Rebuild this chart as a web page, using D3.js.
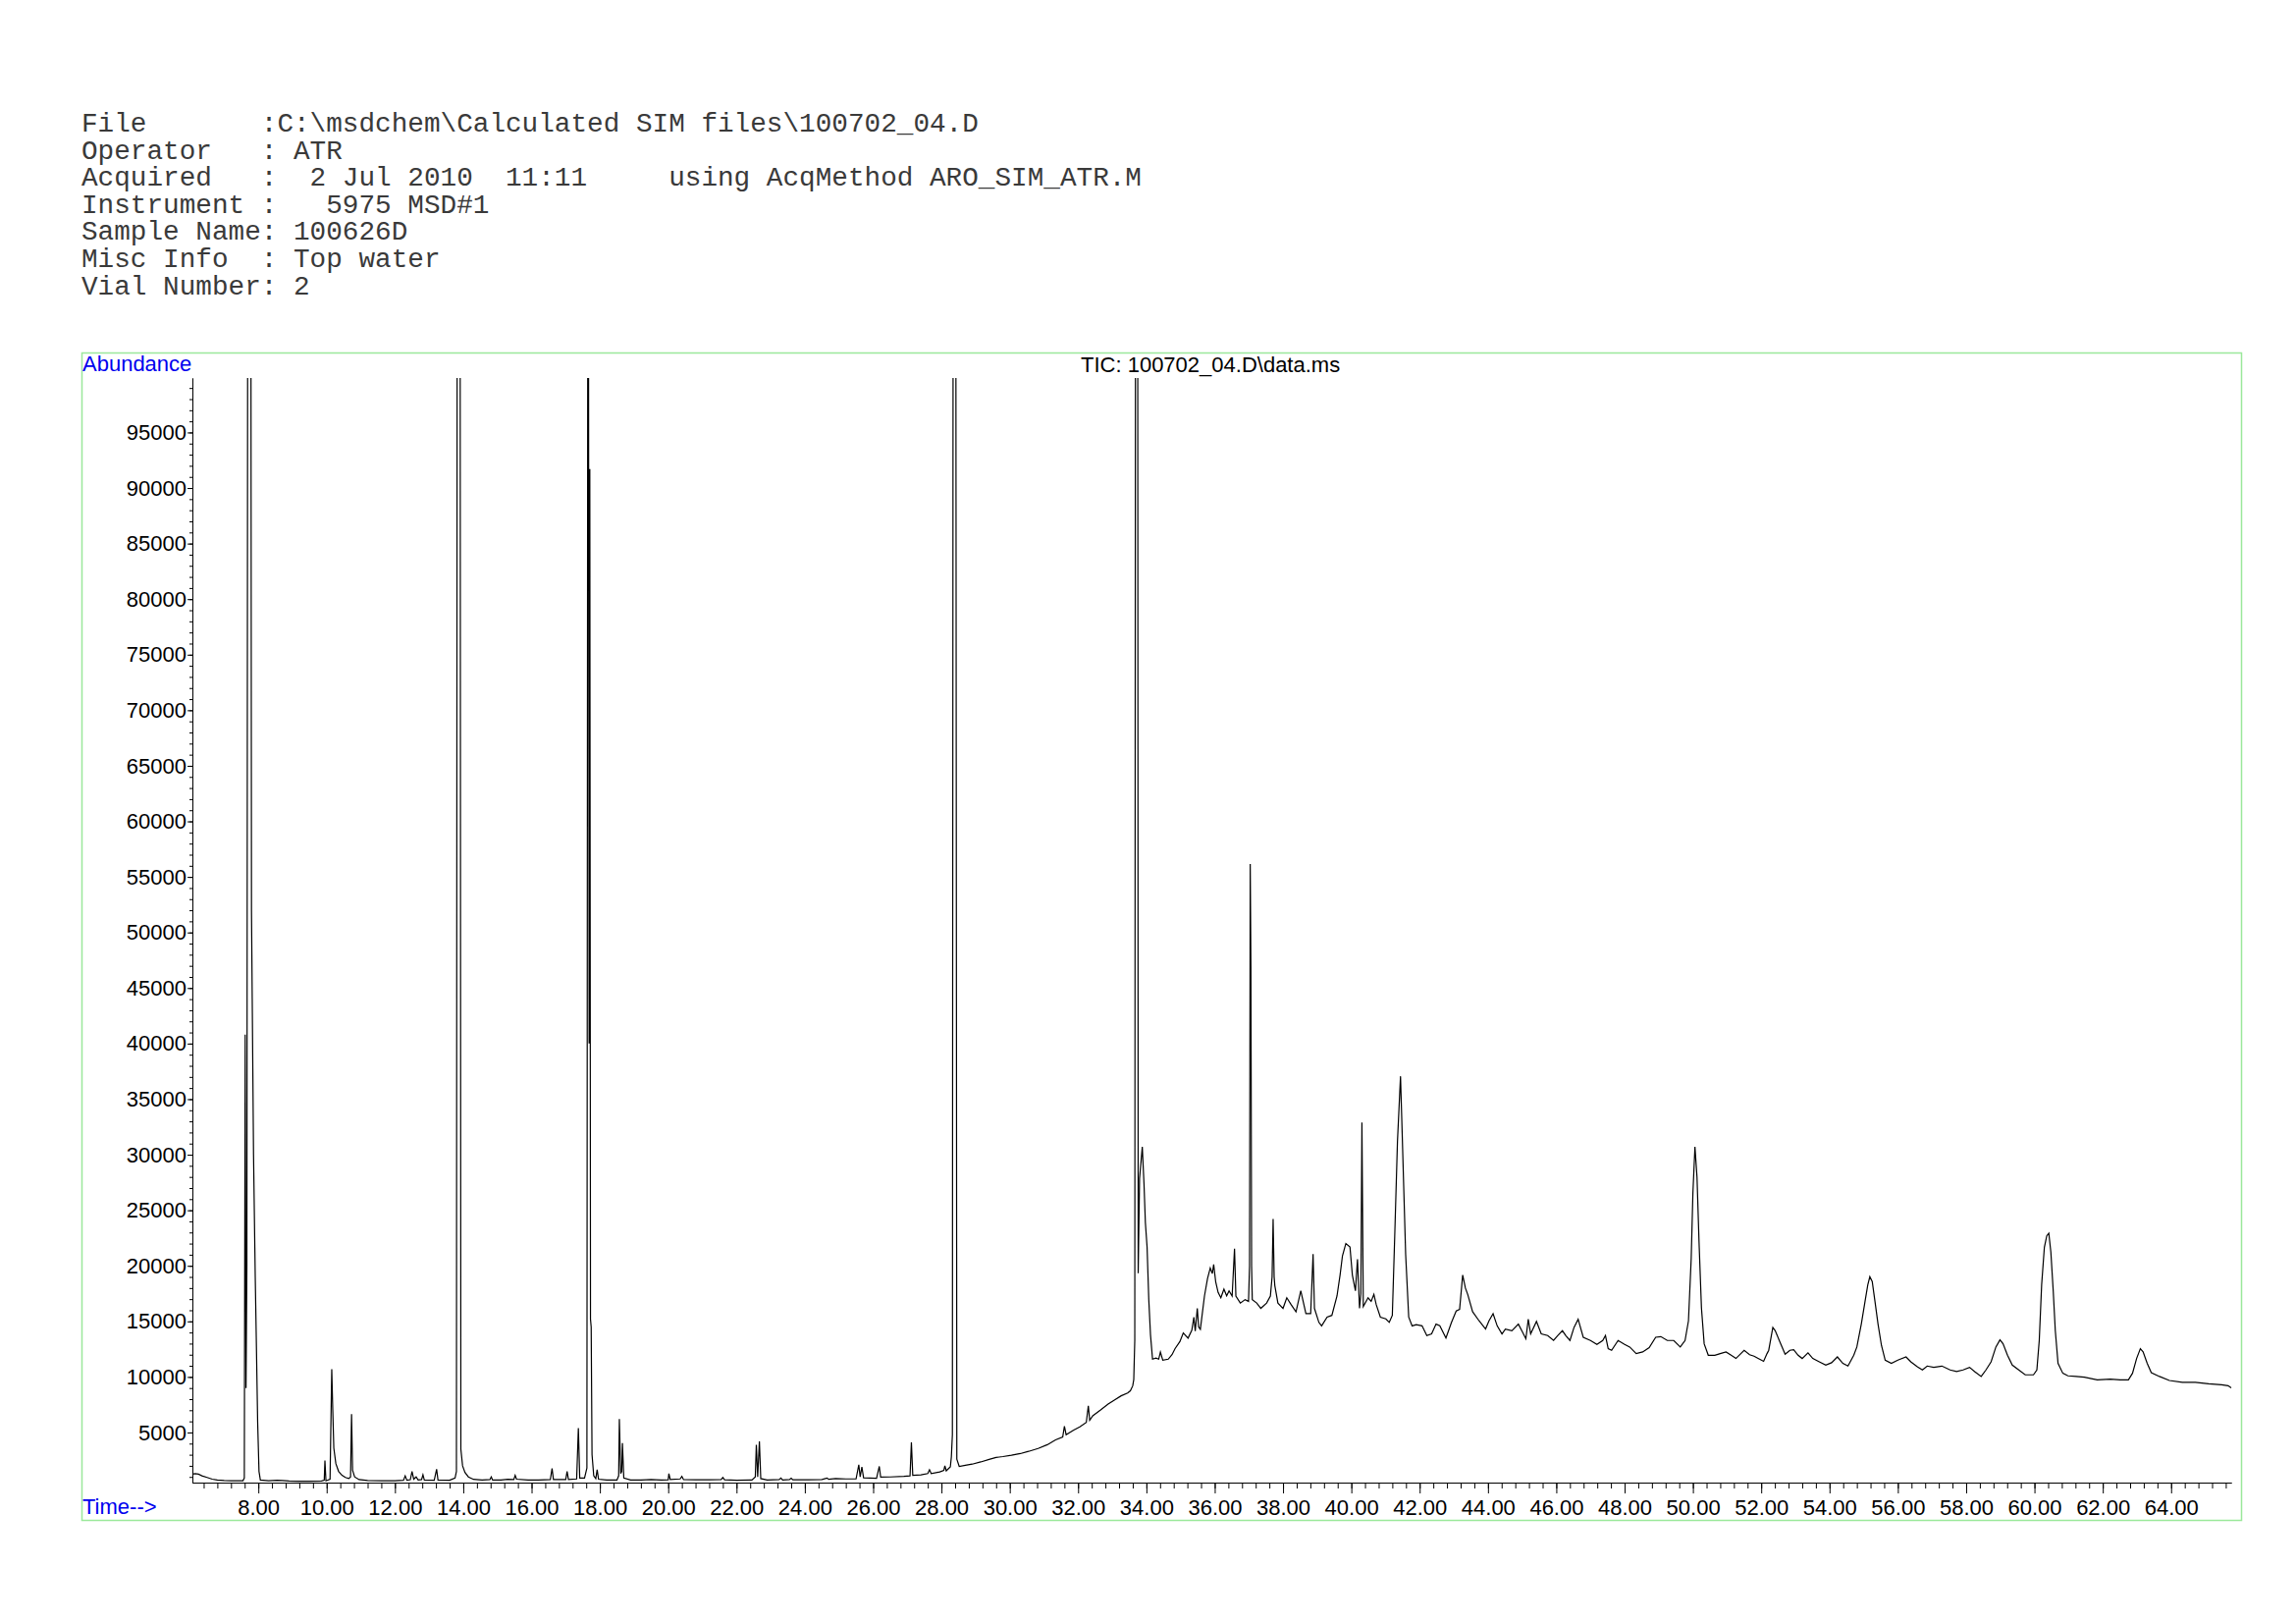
<!DOCTYPE html>
<html>
<head>
<meta charset="utf-8">
<script src="https://cdn.jsdelivr.net/npm/d3@7/dist/d3.min.js"></script>
<style>
  body { margin: 0; background: #fff; }
</style>
</head>
<body>
<div id="chart"></div>
<script>
// header block (fixed width text, spaces matter)
var headerLines = [
  "File       :C:\\msdchem\\Calculated SIM files\\100702_04.D",
  "Operator   : ATR",
  "Acquired   :  2 Jul 2010  11:11     using AcqMethod ARO_SIM_ATR.M",
  "Instrument :   5975 MSD#1",
  "Sample Name: 100626D",
  "Misc Info  : Top water",
  "Vial Number: 2"
];
var traceTitle = "TIC: 100702_04.D\\data.ms";

var yTickValues = [5000, 10000, 15000, 20000, 25000, 30000, 35000, 40000, 45000, 50000,
  55000, 60000, 65000, 70000, 75000, 80000, 85000, 90000, 95000];
var xTickLabels = ["8.00", "10.00", "12.00", "14.00", "16.00", "18.00", "20.00", "22.00",
  "24.00", "26.00", "28.00", "30.00", "32.00", "34.00", "36.00", "38.00", "40.00", "42.00",
  "44.00", "46.00", "48.00", "50.00", "52.00", "54.00", "56.00", "58.00", "60.00", "62.00", "64.00"];

// [retention time (min), abundance]; off-scale apexes estimated
var ticTrace = [
  [6.07,1250],[6.15,1300],[6.25,1250],[6.35,1100],[6.5,950],[6.65,800],[6.8,720],[7.0,680],[7.2,660],[7.4,650],[7.55,660],[7.59,900],
  [7.615,40800],[7.64,9000],[7.665,20000],[7.70,150000],[7.77,150000],[7.80,52000],[7.86,30000],[7.91,19000],[7.94,13500],[7.98,6000],[8.02,1500],[8.06,720],
  [8.3,650],[8.55,700],[8.7,680],[8.9,640],[9.2,620],[9.5,620],[9.85,630],[9.93,700],[9.95,2470],[9.98,650],
  [10.1,800],[10.15,10700],[10.18,7000],[10.21,3600],[10.27,2200],[10.35,1500],[10.45,1150],[10.55,950],[10.65,850],[10.70,1000],[10.73,6650],[10.76,1600],[10.82,1000],[10.95,760],
  [11.2,680],[11.6,660],[12.0,650],[12.25,700],[12.3,1100],[12.35,700],[12.45,750],[12.5,1500],[12.55,800],[12.62,1000],[12.68,720],[12.78,760],[12.82,1200],[12.86,720],
  [13.15,700],[13.22,1700],[13.26,720],[13.6,700],[13.76,900],[13.80,1500],[13.83,150000],[13.90,150000],[13.93,3500],[13.98,2000],[14.05,1400],[14.15,1000],[14.3,780],
  [14.55,720],[14.78,760],[14.82,1000],[14.86,720],[15.1,720],[15.3,780],[15.48,760],[15.52,1150],[15.56,800],[15.9,720],[16.2,730],[16.55,760],[16.6,1770],[16.64,760],
  [17.0,760],[17.04,1500],[17.08,760],[17.32,820],[17.37,5400],[17.41,900],[17.55,900],[17.62,1800],[17.655,150000],[17.685,40000],[17.705,91700],[17.725,15200],[17.745,14500],[17.77,3000],[17.82,1100],[17.88,850],[17.92,1650],[17.96,800],
  [18.2,720],[18.5,720],[18.55,1100],[18.57,6200],[18.61,1300],[18.64,1500],[18.66,4050],[18.70,900],[18.9,720],[19.2,720],[19.5,760],[19.8,720],
  [20.0,740],[20.02,1300],[20.06,760],[20.35,820],[20.4,1050],[20.45,760],[20.8,740],[21.2,740],[21.55,760],[21.6,950],[21.65,740],[22.0,700],[22.45,720],
  [22.55,1000],[22.58,3900],[22.62,1000],[22.67,4200],[22.71,850],[22.9,720],[23.25,760],[23.3,900],[23.35,720],[23.55,760],[23.6,880],[23.65,740],[24.1,740],[24.5,760],[24.65,900],[24.7,780],[24.9,850],
  [25.2,820],[25.5,820],[25.58,2100],[25.62,1000],[25.67,1900],[25.72,920],[26.1,880],[26.18,1950],[26.22,980],[26.5,1000],[26.9,1050],[27.08,1100],[27.12,4100],[27.16,1150],[27.4,1180],
  [27.6,1300],[27.65,1650],[27.7,1300],[27.95,1450],[28.07,1600],[28.1,2000],[28.14,1550],[28.26,1900],[28.29,2800],[28.32,4800],[28.35,150000],[28.41,150000],[28.45,2600],[28.52,1950],
  [28.7,2050],[28.9,2150],[29.15,2350],[29.42,2600],[29.6,2750],[29.8,2830],[30.05,2950],[30.31,3100],[30.55,3300],[30.83,3560],[31.1,3900],[31.34,4330],[31.55,4600],[31.60,5570],[31.65,4800],
  [31.86,5200],[32.05,5500],[32.24,5900],[32.30,7400],[32.34,6100],[32.43,6500],[32.65,7000],[32.88,7550],[33.05,7900],[33.26,8300],[33.45,8550],[33.53,8750],[33.60,9200],[33.63,9750],
  [33.66,13300],[33.69,150000],[33.74,150000],[33.76,19330],[33.80,27850],[33.88,30700],[33.93,27370],[33.97,23900],[34.02,21700],[34.07,16960],[34.12,13800],[34.18,11600],[34.28,11700],
  [34.36,11600],[34.41,12230],[34.48,11500],[34.64,11600],[34.75,12000],[34.84,12550],[34.98,13180],[35.08,13960],[35.22,13490],[35.33,14200],[35.39,15380],[35.43,14120],[35.49,16170],[35.53,14500],
  [35.58,14280],[35.70,17280],[35.79,18860],[35.87,19800],[35.93,19300],[35.97,20120],[36.03,18540],[36.10,17600],[36.18,17120],[36.27,17900],[36.35,17300],[36.42,17750],[36.51,17280],[36.58,21540],
  [36.62,17280],[36.75,16650],[36.89,16960],[36.99,16800],[37.02,20000],[37.04,56150],[37.06,46930],[37.08,20000],[37.10,16960],[37.23,16650],[37.35,16170],[37.52,16650],[37.63,17280],
  [37.68,19000],[37.71,24220],[37.74,19000],[37.76,18220],[37.85,16650],[38.00,16170],[38.11,17120],[38.24,16490],[38.38,15860],[38.52,17750],[38.67,15700],[38.81,15700],[38.88,21060],[38.92,16170],
  [39.05,14910],[39.13,14590],[39.29,15380],[39.43,15540],[39.58,17280],[39.67,19170],[39.74,20900],[39.84,22010],[39.96,21700],[40.03,19170],[40.12,17750],[40.18,20590],[40.24,16170],[40.28,17500],
  [40.31,32890],[40.35,16330],[40.49,17120],[40.58,16800],[40.66,17430],[40.73,16490],[40.85,15380],[41.01,15220],[41.11,14910],[41.20,15540],[41.27,22640],[41.35,31160],[41.44,37060],[41.49,31790],
  [41.59,21060],[41.68,15380],[41.78,14590],[41.9,14700],[42.07,14600],[42.21,13720],[42.35,13870],[42.48,14750],[42.59,14600],[42.77,13510],[42.93,14900],[43.07,15930],[43.17,16080],[43.26,19170],
  [43.34,17990],[43.41,17400],[43.55,15870],[43.74,15050],[43.93,14310],[44.03,15050],[44.15,15690],[44.27,14600],[44.41,13870],[44.51,14310],[44.70,14160],[44.89,14750],[44.99,14160],[45.11,13430],
  [45.18,15190],[45.25,13870],[45.42,14990],[45.56,13870],[45.75,13720],[45.92,13280],[46.04,13720],[46.18,14160],[46.28,13720],[46.40,13280],[46.52,14460],[46.64,15190],[46.79,13570],[47.00,13280],
  [47.19,12930],[47.36,13280],[47.44,13720],[47.52,12540],[47.62,12400],[47.81,13280],[48.00,12930],[48.15,12690],[48.34,12100],[48.53,12250],[48.72,12630],[48.91,13570],[49.06,13630],[49.25,13280],
  [49.44,13280],[49.63,12690],[49.77,13280],[49.87,15050],[49.95,20640],[50.00,26530],[50.06,30710],[50.12,28000],[50.18,22110],[50.25,16220],[50.33,12980],[50.45,11950],[50.64,11950],[50.80,12100],
  [50.97,12250],[51.12,11950],[51.26,11660],[51.50,12400],[51.66,12000],[51.79,11870],[51.95,11600],[52.07,11400],[52.17,12100],[52.22,12400],[52.34,14460],[52.41,14160],[52.55,13130],[52.70,12040],
  [52.84,12400],[52.95,12450],[53.08,11950],[53.20,11660],[53.37,12160],[53.51,11660],[53.70,11360],[53.89,11070],[54.06,11280],[54.23,11800],[54.39,11220],[54.54,10980],[54.71,11950],[54.80,12690],
  [54.93,14750],[55.04,16810],[55.12,18290],[55.18,19020],[55.25,18580],[55.33,16810],[55.42,14750],[55.52,12840],[55.63,11510],[55.81,11220],[56.00,11510],[56.24,11800],[56.38,11360],[56.57,10920],
  [56.72,10630],[56.86,10980],[57.05,10860],[57.29,10980],[57.53,10630],[57.72,10480],[57.91,10630],[58.10,10860],[58.25,10480],[58.44,10040],[58.58,10630],[58.73,11360],[58.87,12690],[58.99,13340],
  [59.08,12980],[59.21,11950],[59.35,11070],[59.54,10630],[59.73,10190],[59.97,10190],[60.07,10630],[60.14,13280],[60.21,18290],[60.29,21670],[60.36,22700],[60.42,22940],[60.48,21230],[60.55,17700],
  [60.61,14160],[60.69,11220],[60.83,10330],[60.98,10100],[61.22,10040],[61.46,9980],[61.84,9740],[62.22,9800],[62.51,9740],[62.75,9740],[62.87,10330],[62.99,11660],[63.10,12540],[63.18,12250],
  [63.30,11220],[63.42,10390],[63.66,10040],[63.95,9680],[64.33,9510],[64.71,9510],[65.10,9390],[65.48,9300],[65.67,9210],[65.76,9010]
];

// page and plot box (ChemStation style printout)
var pageWidth = 2339, pageHeight = 1653;
var plot = {left: 196, right: 2273, top: 385, bottom: 1510};
var labelFont = "'Liberation Sans', Arial, sans-serif";

var svg = d3.select("#chart")
  .append("svg")
    .attr("width", pageWidth)
    .attr("height", pageHeight);

// header
svg.append("g")
  .selectAll("text")
  .data(headerLines)
  .enter()
  .append("text")
    .attr("x", 83)
    .attr("y", function(d, i) { return 134 + i * 27.6; })
    .attr("xml:space", "preserve")
    .style("white-space", "pre")
    .attr("font-family", "'Courier New', 'Liberation Mono', monospace")
    .attr("font-size", "27.7px")
    .attr("fill", "#3a3a3a")
    .text(function(d) { return d; });

// green frame round the chromatogram
svg.append("rect")
  .attr("x", 83.5)
  .attr("y", 359.5)
  .attr("width", 2200)
  .attr("height", 1189)
  .attr("fill", "none")
  .attr("stroke", "#9be89b")
  .attr("stroke-width", 1.5);

var x = d3.scaleLinear()
  .domain([6.07, 65.76])
  .range([plot.left, plot.right]);

var y = d3.scaleLinear()
  .domain([490, 99900])
  .range([plot.bottom, plot.top]);

// Y axis, labelled + minor ticks every 1000
svg.append("g")
  .attr("transform", "translate(" + plot.left + ",0)")
  .call(d3.axisLeft(y)
    .tickValues(yTickValues)
    .tickSize(5)
    .tickSizeOuter(0)
    .tickPadding(1)
    .tickFormat(d3.format("d")));
svg.append("g")
  .attr("transform", "translate(" + plot.left + ",0)")
  .call(d3.axisLeft(y)
    .tickValues(d3.range(1000, 100000, 1000))
    .tickSize(3)
    .tickSizeOuter(0)
    .tickFormat(""));

// X axis, majors every 2 min, minors every 0.4 min
svg.append("g")
  .attr("transform", "translate(0," + plot.bottom + ")")
  .call(d3.axisBottom(x)
    .tickValues(xTickLabels.map(Number))
    .tickSize(11)
    .tickSizeOuter(0)
    .tickPadding(6)
    .tickFormat(function(d, i) { return xTickLabels[i]; }));
svg.append("g")
  .attr("transform", "translate(0," + plot.bottom + ")")
  .call(d3.axisBottom(x)
    .tickValues(d3.range(6.4, 65.76, 0.4))
    .tickSize(6)
    .tickSizeOuter(0)
    .tickFormat(""));

svg.selectAll(".tick text")
  .attr("font-family", labelFont)
  .attr("font-size", "22px")
  .attr("fill", "#000");
svg.selectAll(".domain, .tick line").attr("stroke", "#000");

// the trace, clipped where peaks run off scale
svg.append("clipPath")
  .attr("id", "plotClip")
  .append("rect")
    .attr("x", plot.left)
    .attr("y", plot.top)
    .attr("width", plot.right - plot.left + 1)
    .attr("height", plot.bottom - plot.top);

svg.append("path")
  .datum(ticTrace)
  .attr("clip-path", "url(#plotClip)")
  .attr("fill", "none")
  .attr("stroke", "#000")
  .attr("stroke-width", 1.2)
  .attr("d", d3.line()
    .x(function(d) { return x(d[0]); })
    .y(function(d) { return y(d[1]); }));

// captions
svg.append("text")
  .attr("x", 84)
  .attr("y", 378)
  .attr("font-family", labelFont)
  .attr("font-size", "22px")
  .attr("fill", "#0000ee")
  .text("Abundance");

svg.append("text")
  .attr("x", 84)
  .attr("y", 1542)
  .attr("font-family", labelFont)
  .attr("font-size", "22px")
  .attr("fill", "#0000ee")
  .text("Time-->");

svg.append("text")
  .attr("x", 1101)
  .attr("y", 379)
  .attr("font-family", labelFont)
  .attr("font-size", "22px")
  .attr("fill", "#000")
  .text(traceTitle);
</script>
</body>
</html>
